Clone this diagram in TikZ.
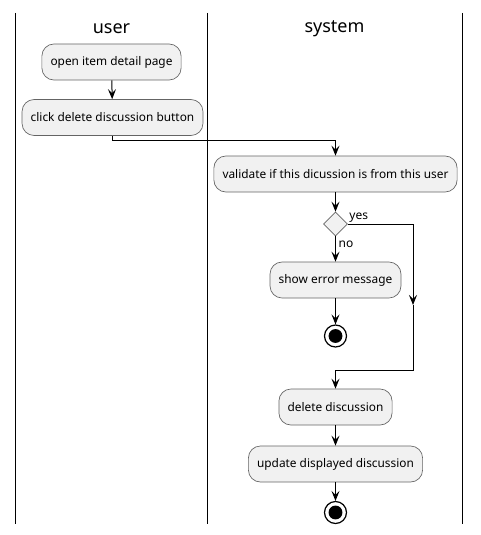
\documentclass[tikz,border=0pt]{standalone}
\usepackage{fontspec}
\setmainfont{Noto Sans}
\usetikzlibrary{arrows.meta,shapes.geometric}

\tikzset{
  act/.style={draw={rgb,255:red,100;green,100;blue,100}, fill={rgb,255:red,241;green,241;blue,241}, rounded corners=9pt, line width=0.5pt, minimum height=27pt, inner xsep=6.5pt, font=\fontsize{8.9}{10}\selectfont},
  flow/.style={line width=0.75pt, -{Stealth[length=7.5pt,width=6pt,inset=3pt]}},
  lane/.style={line width=1.2pt},
  stopnode/.style={circle, draw, line width=0.9pt, minimum size=16.5pt, inner sep=0pt, path picture={\fill (path picture bounding box.center) circle (5.2pt);}},
  decide/.style={diamond, draw={rgb,255:red,100;green,100;blue,100}, fill={rgb,255:red,241;green,241;blue,241}, line width=0.5pt, minimum size=18pt, inner sep=0pt}
}

\begin{document}
\begin{tikzpicture}[x=0.75pt,y=0.75pt,yscale=-1,xscale=1]
\useasboundingbox (0,0) rectangle (480,535);

% swimlanes
\draw [lane] (15.5,13) -- (15.5,524) ;
\draw [lane] (207.5,13) -- (207.5,524) ;
\draw [lane] (462.5,13) -- (462.5,524) ;
\draw (111.5,28.5) node [font=\fontsize{13.5}{15}\selectfont] (hdruser) {user};
\draw (334.5,28.5) node [font=\fontsize{13.5}{15}\selectfont] (hdrsys) {system};

% user lane
\draw (111.5,62) node [act] (open) {open item detail page};
\draw (112.5,117.5) node [act] (click) {click delete discussion button};

% system lane
\draw (335.5,174) node [act] (valid) {validate if this dicussion is from this user};
\draw (335.5,224) node [decide] (dec) {};
\draw (335.5,280) node [act] (err) {show error message};
\draw (335.5,336) node [stopnode] (stopa) {};
\draw (335.5,407) node [act] (del) {delete discussion};
\draw (335.5,464) node [act] (upd) {update displayed discussion};
\draw (335.5,512.5) node [stopnode] (stopb) {};

\coordinate (turn) at (112.5,140.5) ;
\coordinate (yesarr) at (413,305) ;
\coordinate (join) at (413,370) ;

% connectors
\draw [flow] (open) -- (click) ;
\draw [flow] (click.south) -- (turn) -| (valid.north) ;
\draw [flow] (valid) -- (dec) ;
\draw [flow] (dec.south) -- (err.north) node [pos=0.3, right, inner sep=2pt, font=\fontsize{9}{10}\selectfont] {no} ;
\draw [flow] (dec.east) -| (yesarr) ;
\draw (dec.east) node [above right, inner sep=1pt, font=\fontsize{9}{10}\selectfont] {yes} ;
\draw [flow] (yesarr) -- (join) -| (del.north) ;
\draw [flow] (err) -- (stopa) ;
\draw [flow] (del) -- (upd) ;
\draw [flow] (upd) -- (stopb) ;
\end{tikzpicture}
\end{document}
